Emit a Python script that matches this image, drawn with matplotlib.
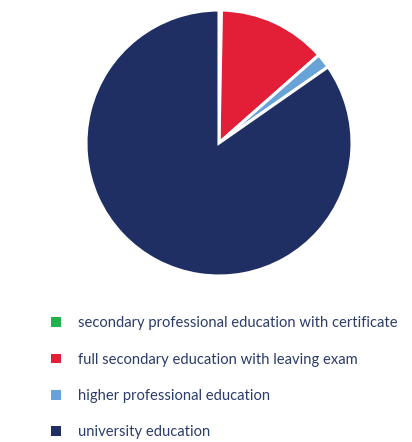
import matplotlib.pyplot as plt
from matplotlib.patches import Patch

labels = [
    "secondary professional education with certificate",
    "full secondary education with leaving exam",
    "higher professional education",
    "university education",
]
values = [0.3, 13.2, 1.8, 84.7]
colors = ["#21b24b", "#e31e37", "#68a3d8", "#1f2f63"]

fig = plt.figure(figsize=(4.12, 4.42), dpi=100)
ax = fig.add_axes([(219 - 133) / 412, 1 - (143 + 133) / 442, 266 / 412, 266 / 442])
ax.pie(values, colors=colors, startangle=90, counterclock=False, radius=1,
       wedgeprops=dict(edgecolor="white", linewidth=2.2))
ax.set_xlim(-1, 1)
ax.set_ylim(-1, 1)
ax.set_aspect("equal")

handles = [Patch(facecolor=c, edgecolor="none") for c in colors]
fig.legend(handles, labels, loc="upper left", bbox_to_anchor=(38 / 412, 1 - 303 / 442),
           frameon=False, handlelength=0.65, handleheight=0.65, handletextpad=1.15,
           labelspacing=1.52, labelcolor="#2b3c6b",
           prop={"family": "Lato", "size": 10.6})

fig.savefig("out.png", dpi=100)
